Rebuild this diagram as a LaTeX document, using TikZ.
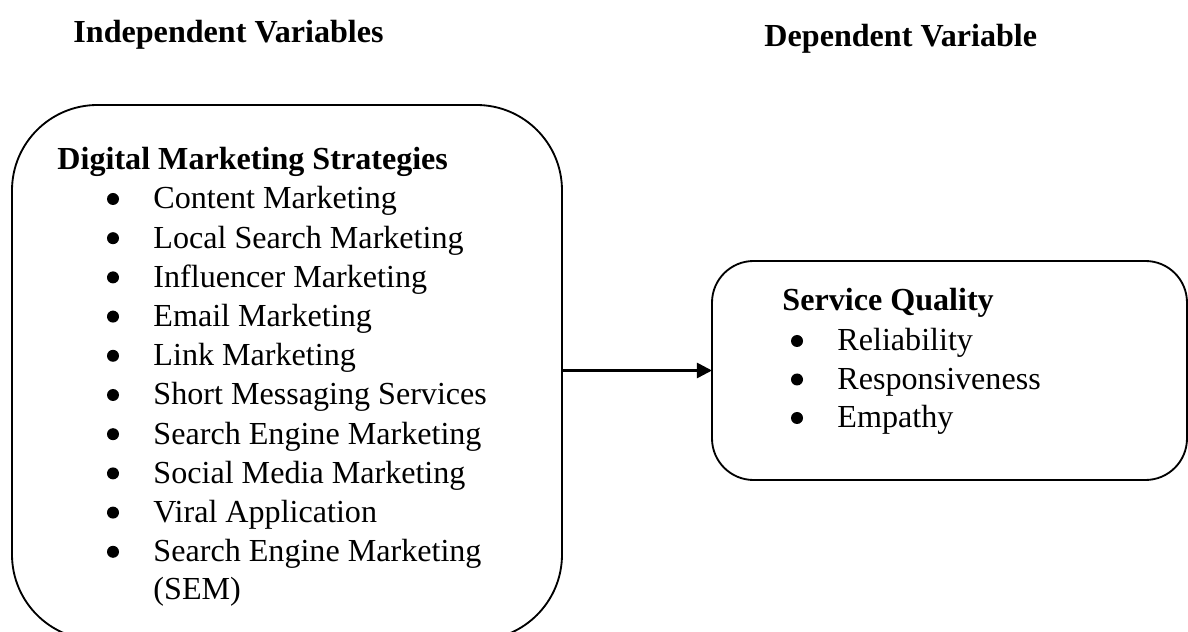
\documentclass[tikz,border=0pt]{standalone}
\usepackage{fontspec}
\setmainfont{Liberation Serif}
\usetikzlibrary{arrows.meta,positioning}

\def\ppx{0.433pt}% one pixel of the reference

\begin{document}
\begin{tikzpicture}[x=\ppx,y=-\ppx,font=\fontsize{13.9pt}{17pt}\selectfont,
    box/.style={draw,thick,inner sep=0pt,outer sep=0pt,anchor=north west},
    head/.style={anchor=base west,inner sep=0pt,font=\fontsize{13.9pt}{17pt}\selectfont\bfseries},
    entry/.style={anchor=base west,inner sep=0pt},
    dot/.style={circle,fill,inner sep=0pt,minimum size=12*\ppx}]
	\useasboundingbox (0,0) rectangle (1188,632);
	% column headings
	\node[head] (indep) at (73,43) {Independent Variables};
	\node[head] (dep) at (764,47) {Dependent Variable};
	% the two boxes
	\node[box,rounded corners=37pt,minimum width=550*\ppx,minimum height=535*\ppx] (dms) at (12,105) {};
	\node[box,rounded corners=18pt,minimum width=475*\ppx,minimum height=219*\ppx] (sq) at (712,261) {};
	% left list
	\node[head] (dmshead) at (57,170) {Digital Marketing Strategies};
	\foreach \t [count=\i] in {Content Marketing,Local Search Marketing,Influencer Marketing,Email Marketing,Link Marketing,Short Messaging Services,Search Engine Marketing,Social Media Marketing,Viral Application,Search Engine Marketing}
	{
		\node[dot] (dmsdot\i) at (113,{199+(\i-1)*39.2}) {};
		\node[entry] (dmsitem\i) at (153,{209+(\i-1)*39.2}) {\t};
	}
	\node[entry] (dmsmore) at (153,599) {(SEM)};
	% right list
	\node[head] (sqhead) at (782,311) {Service Quality};
	\foreach \t [count=\i] in {Reliability,Responsiveness,Empathy}
	{
		\node[dot] (sqdot\i) at (797,{341+(\i-1)*38.5}) {};
		\node[entry] (sqitem\i) at (837,{351+(\i-1)*38.5}) {\t};
	}
	% link
	\draw[line width=1.1pt,-{Triangle[length=6.5pt,width=6.5pt]}] (dms.east |- sq.west) -- (sq.west);
\end{tikzpicture}
\end{document}
